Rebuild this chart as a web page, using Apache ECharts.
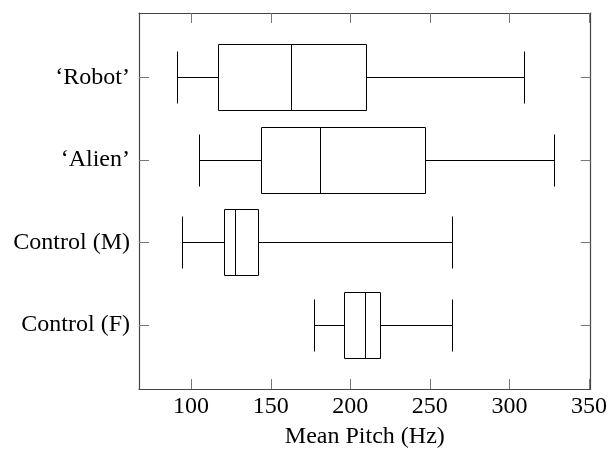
<!DOCTYPE html>
<html><head><meta charset="utf-8">
<script src="https://cdn.jsdelivr.net/npm/echarts@6/dist/echarts.min.js"></script>
<style>html,body{margin:0;padding:0;background:#fff}#c{width:610px;height:458px}</style>
</head><body><div id="c"></div>
<script>
// categories bottom -> top
const categories = ['Control (F)', 'Control (M)', '\u2018Alien\u2019', '\u2018Robot\u2019'];
const whiskerLow  = [177.5,  94.2, 104.8,  90.9];
const q1          = [196.1, 120.8, 144.0, 117.1];
const median      = [209.5, 127.5, 181.3, 163.1];
const q3          = [218.8, 142.1, 247.1, 209.8];
const whiskerHigh = [263.8, 263.8, 328.0, 309.0];
const xTicks = [100, 150, 200, 250, 300, 350];
const yTicks = [0, 1, 2, 3];

const data = categories.map((c, i) => [i, whiskerLow[i], q1[i], median[i], q3[i], whiskerHigh[i]]);

const FONT = 'Liberation Serif';
const axisColor = '#444';
const TICK_LEN = 10;
const X_MIN = 67.3, X_MAX = 351.05, Y_MIN = -0.78, Y_MAX = 3.78;

const chart = echarts.init(document.getElementById('c'));
const px = v => Math.round(v) + 0.5;

chart.setOption({
  animation: false,
  backgroundColor: '#fff',
  grid: { left: 139, top: 13, width: 454, height: 376, containLabel: false },
  xAxis: [
    {
      type: 'value', position: 'bottom', min: X_MIN, max: X_MAX,
      axisLine: { show: true, onZero: false, lineStyle: { color: axisColor, width: 1.2 } },
      axisTick: { show: false },
      axisLabel: { customValues: xTicks, fontFamily: FONT, fontSize: 24, color: '#000', margin: 6 },
      splitLine: { show: false },
      name: 'Mean Pitch (Hz)', nameLocation: 'middle', nameGap: 36,
      nameTextStyle: { fontFamily: FONT, fontSize: 24, color: '#000' }
    },
    {
      type: 'value', position: 'top', min: X_MIN, max: X_MAX,
      axisLine: { show: true, onZero: false, lineStyle: { color: axisColor, width: 1.2 } },
      axisTick: { show: false },
      axisLabel: { show: false },
      splitLine: { show: false }
    }
  ],
  yAxis: [
    {
      type: 'value', position: 'left', min: Y_MIN, max: Y_MAX,
      axisLine: { show: true, onZero: false, lineStyle: { color: axisColor, width: 1.2 } },
      axisTick: { show: false },
      axisLabel: { customValues: yTicks, formatter: v => categories[Math.round(v)], fontFamily: FONT, fontSize: 24, color: '#000', margin: 9 },
      splitLine: { show: false }
    },
    {
      type: 'value', position: 'right', min: Y_MIN, max: Y_MAX,
      axisLine: { show: true, onZero: false, lineStyle: { color: axisColor, width: 1.2 } },
      axisTick: { show: false },
      axisLabel: { show: false },
      splitLine: { show: false }
    }
  ],
  series: [
    {
      type: 'custom',
      xAxisIndex: 0, yAxisIndex: 0,
      data: data,
      encode: { x: [1, 2, 3, 4, 5], y: 0 },
      renderItem: function (params, api) {
        const i = api.value(0);
        const band = api.size([0, 1])[1];
        const boxHalf = band * 0.4;
        const capHalf = band * 0.316;
        const cy = api.coord([100, i])[1];
        const xs = [1, 2, 3, 4, 5].map(k => px(api.coord([api.value(k), i])[0]));
        const y = px(cy);
        const top = px(cy - boxHalf), bot = px(cy + boxHalf);
        const ctop = px(cy - capHalf), cbot = px(cy + capHalf);
        const st = { stroke: '#000', lineWidth: 1, fill: null };
        const tk = { stroke: '#777', lineWidth: 1, fill: null };
        const children = [
          { type: 'line', shape: { x1: xs[0], y1: y, x2: xs[1], y2: y }, style: st },
          { type: 'line', shape: { x1: xs[3], y1: y, x2: xs[4], y2: y }, style: st },
          { type: 'line', shape: { x1: xs[0], y1: ctop, x2: xs[0], y2: cbot }, style: st },
          { type: 'line', shape: { x1: xs[4], y1: ctop, x2: xs[4], y2: cbot }, style: st },
          { type: 'rect', shape: { x: xs[1], y: top, width: xs[3] - xs[1], height: bot - top }, style: { stroke: '#000', lineWidth: 1, fill: 'rgba(0,0,0,0)' } },
          { type: 'line', shape: { x1: xs[2], y1: top, x2: xs[2], y2: bot }, style: st }
        ];
        // y-axis tick for this category (left and right, inward)
        const xl = api.coord([X_MIN, i])[0], xr = api.coord([X_MAX, i])[0];
        children.push({ type: 'line', shape: { x1: xl, y1: y, x2: xl + TICK_LEN, y2: y }, style: tk });
        children.push({ type: 'line', shape: { x1: xr, y1: y, x2: xr - TICK_LEN, y2: y }, style: tk });
        // x-axis ticks (drawn once, with the first item)
        if (params.dataIndex === 0) {
          const yb = api.coord([X_MIN, Y_MIN])[1], yt = api.coord([X_MIN, Y_MAX])[1];
          xTicks.forEach(v => {
            const x = px(api.coord([v, i])[0]);
            children.push({ type: 'line', shape: { x1: x, y1: yb, x2: x, y2: yb - TICK_LEN }, style: tk });
            children.push({ type: 'line', shape: { x1: x, y1: yt, x2: x, y2: yt + TICK_LEN }, style: tk });
          });
        }
        return { type: 'group', children: children };
      }
    }
  ]
});
</script></body></html>
